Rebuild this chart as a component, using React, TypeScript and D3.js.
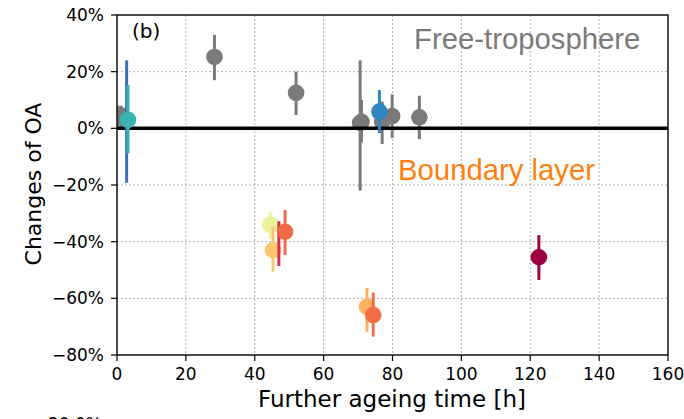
import React from "react";
import * as d3 from "d3";

const xTicks = [0, 20, 40, 60, 80, 100, 120, 140, 160];
const yTicks = [40, 20, 0, -20, -40, -60, -80];

// Free-troposphere (gray)
const ftAge = [0.3, 1.2, 2.0, 28.3, 52.0, 70.6, 71.0, 77.0, 79.9, 87.8];
const ftVal = [4.0, 4.5, 3.5, 25.2, 12.5, 1.9, 2.3, 2.3, 4.3, 3.9];
const ftLo = [0, 0, 0, 17.0, 4.7, -22.0, -5.0, -5.5, -3.4, -3.8];
const ftHi = [8, 8, 7, 33.0, 20.0, 24.0, 10.0, 9.4, 12.0, 11.5];

// Other coloured measurements
const ptAge = [2.8, 3.2, 76.2, 44.5, 45.3, 47.0, 48.8, 72.6, 74.4, 122.5];
const ptVal = [4.0, 3.0, 5.9, -34.0, -43.0, -40.0, -36.5, -63.0, -65.9, -45.5];
const ptLo = [-19.2, -8.8, -1.7, -39.0, -50.6, -48.6, -44.7, -71.8, -73.5, -53.5];
const ptHi = [24.0, 15.3, 13.5, -29.4, -34.7, -32.8, -28.8, -56.3, -58.0, -37.7];
const ptColor = ["#3f6fba", "#3ab3b0", "#2f86c2", "#eaf29a", "#fdc66e", "#d7304a", "#f06a45", "#fdb062", "#f26f45", "#9e0142"];
const ptShowDot = [false, true, true, true, true, false, true, true, true, true];

const W = 684, H = 419;
const L = 117, R = 668, T = 15, B = 355;

export default function App() {
  const x = d3.scaleLinear().domain([0, 160]).range([L, R]);
  const y = d3.scaleLinear().domain([-80, 40]).range([B, T]);
  const font = "DejaVu Sans, sans-serif";
  const sans = "Liberation Sans, Arial, sans-serif";
  const gray = "#7a7a7a";
  return (
    <svg width={W} height={H} style={{ position: "absolute", left: 0, top: 0 }} fontFamily={font}>
      <rect width={W} height={H} fill="#fff" />
      <defs>
        <clipPath id="pa">
          <rect x={L} y={T} width={R - L} height={B - T} />
        </clipPath>
      </defs>
      {/* grid */}
      {xTicks.slice(1, -1).map((t) => (
        <line key={"gx" + t} x1={x(t)} x2={x(t)} y1={T} y2={B} stroke="#b0b0b0" strokeWidth={1} strokeDasharray="2,2" />
      ))}
      {yTicks.slice(1, -1).map((t) => (
        <line key={"gy" + t} x1={L} x2={R} y1={y(t)} y2={y(t)} stroke="#b0b0b0" strokeWidth={1} strokeDasharray="2,2" />
      ))}
      <g clipPath="url(#pa)">
        {ftAge.map((a, i) => (
          <g key={"ft" + i}>
            <line x1={x(a)} x2={x(a)} y1={y(ftLo[i])} y2={y(ftHi[i])} stroke={gray} strokeWidth={3} />
            <circle cx={x(a)} cy={y(ftVal[i])} r={8.3} fill={gray} />
          </g>
        ))}
        <line x1={L} x2={R} y1={y(0)} y2={y(0)} stroke="#000" strokeWidth={3.5} />
        {ptAge.map((a, i) => (
          <g key={"pt" + i}>
            <line x1={x(a)} x2={x(a)} y1={y(ptLo[i])} y2={y(ptHi[i])} stroke={ptColor[i]} strokeWidth={3} />
            {ptShowDot[i] && <circle cx={x(a)} cy={y(ptVal[i])} r={8.3} fill={ptColor[i]} />}
          </g>
        ))}
      </g>
      {/* frame */}
      <rect x={L} y={T} width={R - L} height={B - T} fill="none" stroke="#000" strokeWidth={1.4} />
      {/* ticks */}
      {xTicks.map((t) => (
        <g key={"xt" + t}>
          <line x1={x(t)} x2={x(t)} y1={B} y2={B + 6} stroke="#000" strokeWidth={1.2} />
          <text x={x(t)} y={B + 25} textAnchor="middle" fontSize={17} fill="#000">{t}</text>
        </g>
      ))}
      {yTicks.map((t) => (
        <g key={"yt" + t}>
          <line x1={L - 6} x2={L} y1={y(t)} y2={y(t)} stroke="#000" strokeWidth={1.2} />
          <text x={L - 13} y={y(t) + 6} textAnchor="end" fontSize={17} fill="#000">{(t < 0 ? "\u2212" + (-t) : t) + "%"}</text>
        </g>
      ))}
      <text x={(L + R) / 2 - 0.5} y={407} textAnchor="middle" fontSize={23} fill="#000">Further ageing time [h]</text>
      <text transform="translate(41,184) rotate(-90)" textAnchor="middle" fontSize={22} fill="#000">Changes of OA</text>
      <text x={132} y={38} fontSize={20} fill="#000">(b)</text>
      <text x={414} y={49} fontSize={29.3} fontFamily={sans} fill={gray}>Free-troposphere</text>
      <text x={398} y={180} fontSize={29.3} fontFamily={sans} fill="#ff7f0e">Boundary layer</text>
      <text x={48} y={430} fontSize={17} fill="#000">20.0%</text>
    </svg>
  );
}
